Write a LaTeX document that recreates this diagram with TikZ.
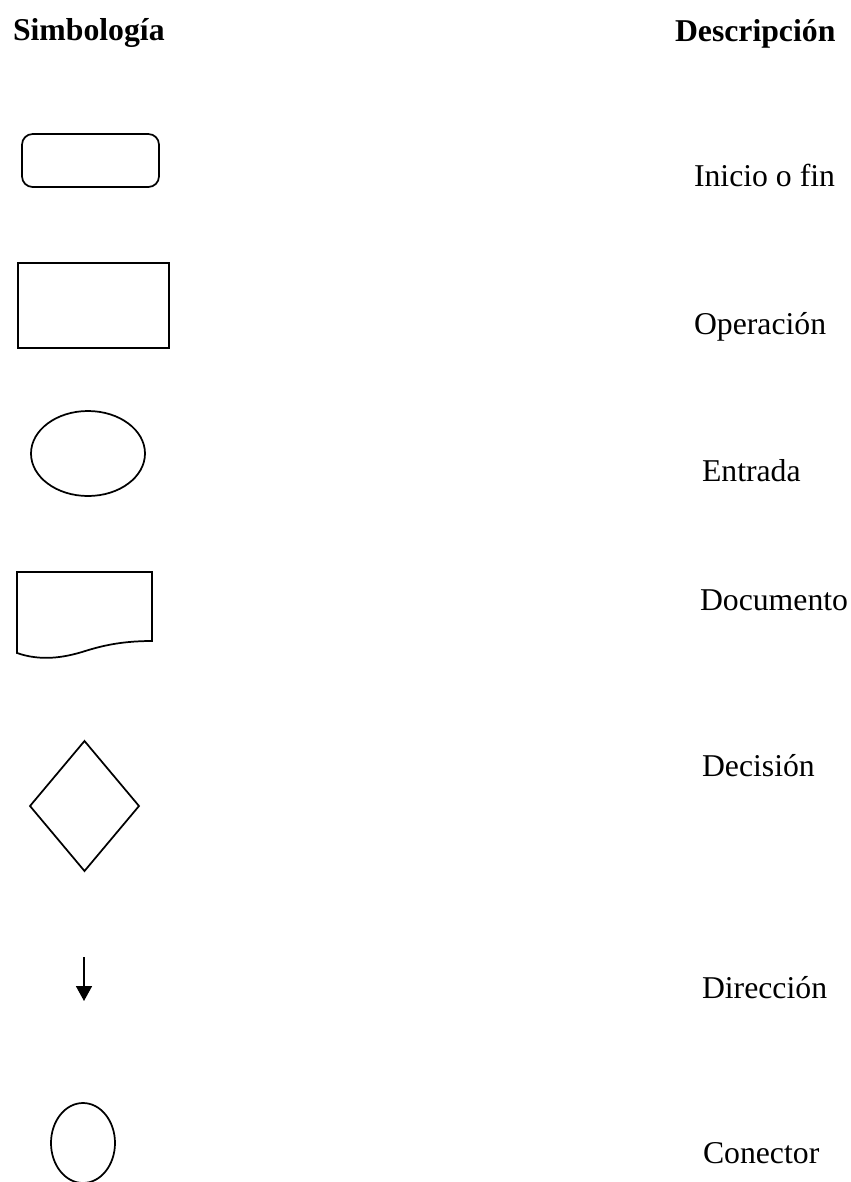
\documentclass[tikz,border=0pt]{standalone}
\usepackage{fontspec}
\setmainfont{Liberation Serif}
\usetikzlibrary{shapes.geometric,arrows.meta}
\begin{document}
\begin{tikzpicture}[x=0.75pt,y=-0.75pt,
  sym/.style={draw=black,line width=1.3pt,inner sep=0pt,outer sep=0pt},
  lbl/.style={anchor=base west,inner sep=0pt,outer sep=0pt,font=\fontsize{23.8pt}{28pt}\selectfont},
  hdr/.style={lbl,font=\fontsize{23.8pt}{28pt}\selectfont\bfseries}]
\useasboundingbox (0,0) rectangle (850,1182);
\clip (0,0) rectangle (850,1182);
% headers
\node[hdr] (h1) at (13,40) {Simbología};
\node[hdr] (h2) at (675,41) {Descripción};
% shapes
\node[sym,rounded corners=8pt,minimum width={137*0.75pt},minimum height={53*0.75pt}] (inicio) at (90.5,160.5) {};
\node[sym,minimum width={151*0.75pt},minimum height={85*0.75pt}] (oper) at (93.5,305.5) {};
\node[sym,ellipse,minimum width={114*0.75pt},minimum height={85*0.75pt}] (entrada) at (88,453.5) {};
\draw[sym,line join=miter] (17,653) -- (17,572) -- (152,572) -- (152,641)
   .. controls (118,641) and (98,647) .. (82,652)
   .. controls (62,658) and (40,661) .. (17,653) -- cycle;
\node[sym,diamond,minimum width={109*0.75pt},minimum height={130*0.75pt}] (decision) at (84.5,806) {};
\coordinate (a1) at (84,957);
\coordinate (a2) at (84,1001);
\draw[line width=1.3pt,-{Triangle[length={15*0.75pt},width={16*0.75pt}]}] (a1) -- (a2);
\node[sym,ellipse,minimum width={64*0.75pt},minimum height={80*0.75pt}] (conector) at (83,1143) {};
% labels
\node[lbl] (t1) at (694,186) {Inicio o fin};
\node[lbl] (t2) at (694,334) {Operación};
\node[lbl] (t3) at (702,481) {Entrada};
\node[lbl] (t4) at (700,610) {Documento};
\node[lbl] (t5) at (702,776) {Decisión};
\node[lbl] (t6) at (702,998) {Dirección};
\node[lbl] (t7) at (703,1163) {Conector};
\end{tikzpicture}
\end{document}
